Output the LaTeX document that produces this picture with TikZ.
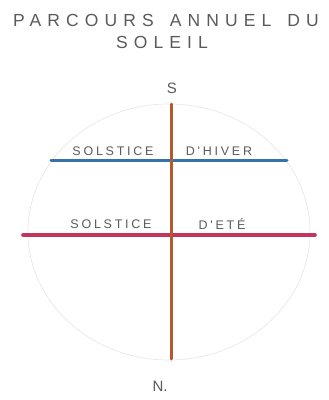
\documentclass[tikz,border=0pt]{standalone}
\usepackage{fontspec}
\setmainfont{Liberation Sans}
\newfontfamily\handfont[LetterSpace=35]{Liberation Sans}
\newfontfamily\labelfont[LetterSpace=22]{Liberation Sans}
\usetikzlibrary{positioning}
\definecolor{crayongris}{HTML}{5A5A5A}
\definecolor{crayonbrun}{HTML}{B5582E}
\definecolor{crayonbleu}{HTML}{3571AC}
\definecolor{crayonrouge}{HTML}{C4355E}

\begin{document}
\begin{tikzpicture}[
    x=1pt, y=-1pt,
    titre/.style={font=\handfont\fontsize{17.5}{17.5}\selectfont, text=crayongris, inner sep=0pt},
    lbl/.style={font=\labelfont\fontsize{12.5}{12.5}\selectfont, text=crayongris, inner sep=0pt},
    pole/.style={font=\fontsize{15}{15}\selectfont, text=crayongris, inner sep=0pt},
    trait/.style={line width=3pt, line cap=round}
  ]
  \useasboundingbox (0,0) rectangle (329,400);
  % faint circle of the sky
  \draw[gray!18, line width=0.7pt] (169,232) ellipse [x radius=141, y radius=128];

  \node[titre] (t1) at (166,20) {PARCOURS\hspace{5pt} ANNUEL\hspace{5pt} DU};
  \node[titre] (t2) at (162,42) {SOLEIL};

  \node[pole] (S) at (172,88) {S};
  \node[pole] (N) at (160,386) {N.};

  \coordinate (sud)    at (171,104);
  \coordinate (nord)   at (171,359);
  \coordinate (hiverW) at (51,160);
  \coordinate (hiverE) at (287,160);
  \coordinate (eteW)   at (23,235);
  \coordinate (eteE)   at (315,235);

  \draw[trait, crayonbleu] (hiverW) -- (hiverE);
  \draw[trait, crayonrouge, line width=3.6pt] (eteW) -- (eteE);
  \draw[trait, crayonbrun] (sud) -- (nord);

  \node[lbl] (solh) at (113,151) {SOLSTICE};
  \node[lbl] (hiv)  at (219,151) {D'HIVER};
  \node[lbl] (sole) at (111,224) {SOLSTICE};
  \node[lbl] (ete)  at (222,224) {D'ETÉ};
\end{tikzpicture}
\end{document}
